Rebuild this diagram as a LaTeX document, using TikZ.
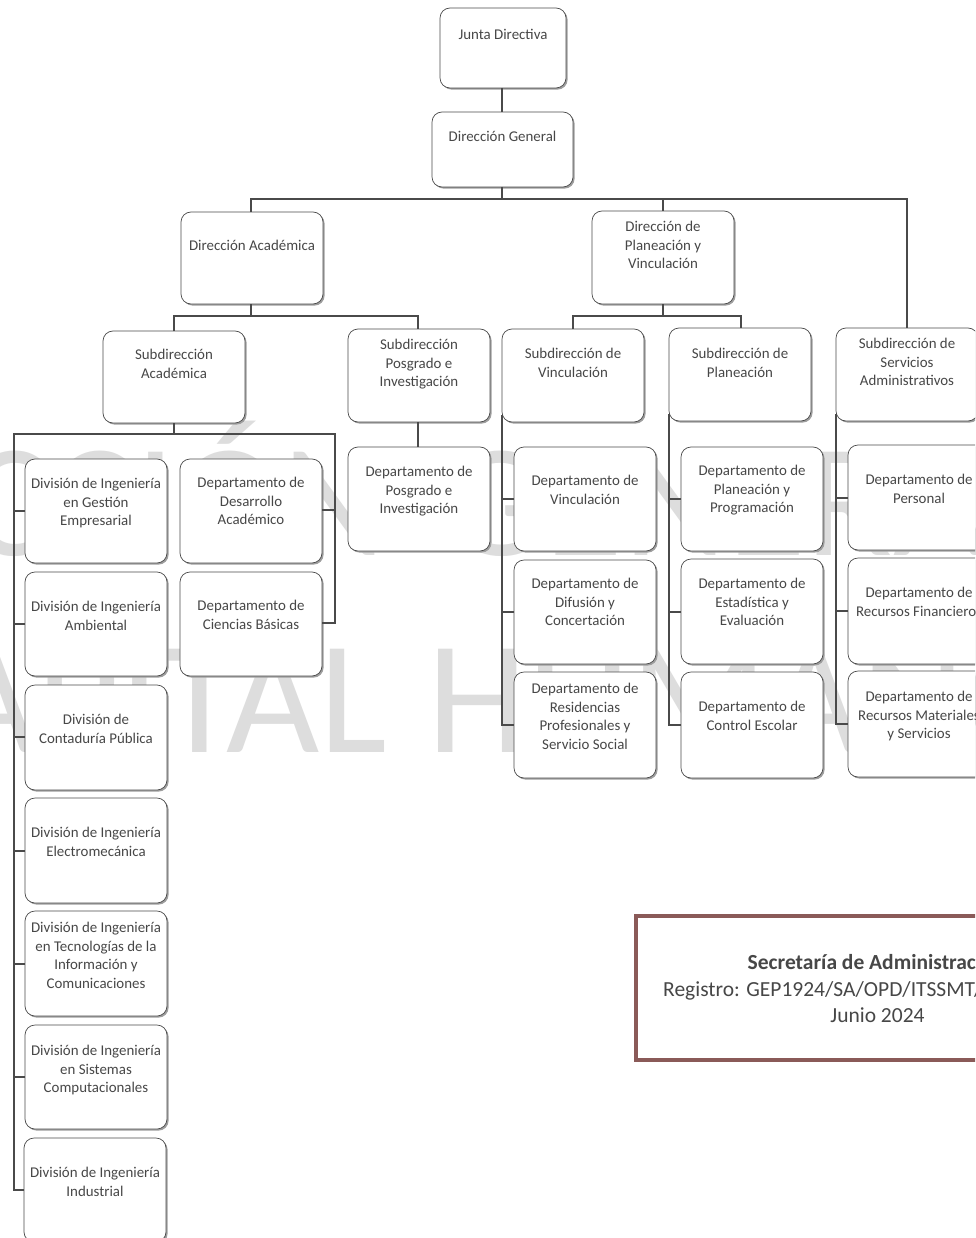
\documentclass[tikz,border=0pt]{standalone}
\usepackage{fontspec}
\setmainfont{Carlito}
\usetikzlibrary{shadows}
\definecolor{ink}{HTML}{474747}
\definecolor{edge}{HTML}{4A4A4A}
\definecolor{wm}{HTML}{DDDDDD}
\definecolor{frame}{HTML}{8A5A58}
\tikzset{x=1pt,y=-1pt,
 orgbox/.style={draw=edge,line width=0.7pt,fill=white,rounded corners=10pt,inner sep=0pt,outer sep=0pt,anchor=north west,
   drop shadow={shadow xshift=1.6pt,shadow yshift=-1.6pt,fill=black!38,opacity=1}},
 link/.style={draw=edge,line width=1.2pt},
 marktext/.style={font=\fontsize{161}{161}\selectfont,text=wm,inner sep=0pt},
 notetext/.style={inner sep=0pt,text=ink,font=\fontsize{21.5}{26}\selectfont},
}
\newlength{\bw}\newlength{\bh}\newlength{\bt}
% name, x1, y1, x2, y2, y of first line centre, text
\newcommand{\obox}[7]{%
 \pgfmathsetlength{\bw}{#4-#2}\pgfmathsetlength{\bh}{#5-#3}\pgfmathsetlength{\bt}{#6-#3-4.5}%
 \node[orgbox] (#1) at (#2,#3) {\begin{minipage}[t][\bh][t]{\bw}\centering\fontsize{14.9}{18.4}\selectfont\color{ink}\vspace*{\bt}#7\end{minipage}};%
}
\begin{document}
\begin{tikzpicture}
\useasboundingbox (0,0) rectangle (975,1238);
\clip (0,0) rectangle (975,1238);
\fill[white] (0,0) rectangle (975,1238);
% watermark
\node[marktext,anchor=base east] (wmA) at (387,555) {DIRECCIÓN};
\node[marktext,anchor=base west] (wmB) at (443,555) {GENERAL DE};
\node[marktext,anchor=base east] (wmC) at (387,752) {CAPITAL};
\node[marktext,anchor=base west] (wmD) at (427,752) {HUMANO};
% boxes
\obox{jd}{440}{8}{566}{88}{34}{Junta Directiva}
\obox{dg}{432}{112}{573}{187}{136}{Dirección General}
\obox{da}{181}{212}{323}{304}{245}{Dirección Académica}
\obox{dpv}{592}{211}{734}{304}{226}{Dirección de\\Planeación y\\Vinculación}
\obox{sa}{103}{331}{245}{423}{354}{Subdirección\\Académica}
\obox{spi}{348}{329}{490}{422}{344}{Subdirección\\Posgrado e\\Investigación}
\obox{sv}{502}{329}{644}{422}{353}{Subdirección de\\Vinculación}
\obox{sp}{669}{328}{811}{421}{353}{Subdirección de\\Planeación}
\obox{ssa}{836}{328}{978}{421}{343}{Subdirección de\\Servicios\\Administrativos}
\obox{d1}{25}{459}{167}{563}{483}{División de Ingeniería\\en Gestión\\Empresarial}
\obox{d2}{25}{572}{167}{676}{606}{División de Ingeniería\\Ambiental}
\obox{d3}{25}{685}{167}{790}{719}{División de\\Contaduría Pública}
\obox{d4}{25}{798}{167}{903}{832}{División de Ingeniería\\Electromecánica}
\obox{d5}{25}{911}{167}{1016}{927}{División de Ingeniería\\en Tecnologías de la\\Información y\\Comunicaciones}
\obox{d6}{25}{1025}{167}{1129}{1050}{División de Ingeniería\\en Sistemas\\Computacionales}
\obox{d7}{24}{1138}{166}{1242}{1172}{División de Ingeniería\\Industrial}
\obox{e1}{180}{459}{322}{563}{482}{Departamento de\\Desarrollo\\Académico}
\obox{e2}{180}{572}{322}{676}{605}{Departamento de\\Ciencias Básicas}
\obox{dpi}{348}{447}{490}{551}{471}{Departamento de\\Posgrado e\\Investigación}
\obox{v1}{514}{447}{656}{551}{480}{Departamento de\\Vinculación}
\obox{v2}{514}{560}{656}{664}{583}{Departamento de\\Difusión y\\Concertación}
\obox{v3}{514}{672}{656}{778}{688}{Departamento de\\Residencias\\Profesionales y\\Servicio Social}
\obox{p1}{681}{447}{823}{551}{470}{Departamento de\\Planeación y\\Programación}
\obox{p2}{681}{559}{823}{664}{583}{Departamento de\\Estadística y\\Evaluación}
\obox{p3}{681}{672}{823}{778}{706}{Departamento de\\Control Escolar}
\obox{s1}{848}{445}{990}{550}{479}{Departamento de\\Personal}
\obox{s2}{848}{558}{990}{664}{592}{Departamento de\\Recursos Financieros}
\obox{s3}{848}{671}{990}{777}{696}{Departamento de\\Recursos Materiales\\y Servicios}
% connectors
\coordinate (b1) at (502,199);
\draw[link] (jd.south -| b1) -- (dg.north -| b1);
\draw[link] (dg.south -| b1) -- (b1);
\draw[link] (da.north -| 251,0) |- (b1);
\draw[link] (b1) -| (ssa.north -| 907,0);
\draw[link] (dpv.north -| 663,0) -- (663,199);
\draw[link] (da.south -| 251,0) -- (251,316);
\draw[link] (sa.north -| 174,0) |- (251,316) -| (spi.north -| 418,0);
\draw[link] (dpv.south -| 663,0) -- (663,316);
\draw[link] (sv.north -| 573,0) |- (663,316) -| (sp.north -| 741,0);
\draw[link] (sa.south -| 174,0) -- (174,434);
\draw[link] (d7.west |- 0,1190) -| (14,434) -- (335,434) |- (e2.east |- 0,623);
\foreach \n/\y in {d1/511,d2/624,d3/737,d4/851,d5/964,d6/1077}
  \draw[link] (\n.west |- 0,\y) -- (14,\y);
\draw[link] (e1.east |- 0,510) -- (335,510);
\draw[link] (spi.south -| 418,0) -- (dpi.north -| 418,0);
\draw[link] (sv.south west) ++(0,-7) coordinate (sv0) -- (502,725) -- (v3.west |- 0,725);
\draw[link] (v1.west |- 0,499) -- (502,499);
\draw[link] (v2.west |- 0,612) -- (502,612);
\draw[link] (sp.south west) ++(0,-7) coordinate (sp0) -- (669,725) -- (p3.west |- 0,725);
\draw[link] (p1.west |- 0,499) -- (669,499);
\draw[link] (p2.west |- 0,612) -- (669,612);
\draw[link] (ssa.south west) ++(0,-7) coordinate (ss0) -- (836,724) -- (s3.west |- 0,724);
\draw[link] (s1.west |- 0,498) -- (836,498);
\draw[link] (s2.west |- 0,611) -- (836,611);
% note
\node[draw=frame,line width=4pt,fill=white,anchor=north west,inner sep=0pt,outer sep=0pt,minimum width=420pt,minimum height=144pt] (note) at (635.5,915.5) {};
\node[notetext,anchor=base,font=\fontsize{21.5}{26}\selectfont\bfseries] (t1) at (876,969) {Secretaría de Administración};
\node[notetext,anchor=base west] (t2) at (663,996) {Registro: GEP1924/SA/OPD/ITSSMT/2024};
\node[notetext,anchor=base] (t3) at (877.5,1022) {Junio 2024};
\end{tikzpicture}
\end{document}
